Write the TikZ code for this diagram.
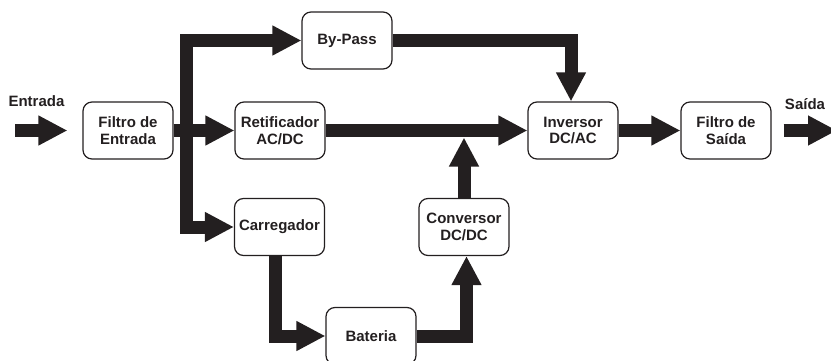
\documentclass[tikz,border=0pt]{standalone}
\usepackage{fontspec}
\setmainfont{Liberation Sans}
\usetikzlibrary{arrows.meta,calc}
\definecolor{ink}{HTML}{231F20}
\begin{document}
\begin{tikzpicture}[x=1pt,y=-1pt,
  >={Triangle[length=29pt,width=28pt]},
  blk/.style={draw=ink, line width=1.2pt, rounded corners=9pt, minimum width=90pt,
    minimum height=57pt, inner sep=0pt, align=center,
    font=\bfseries\fontsize{15}{16.5}\selectfont, text=ink},
  flow/.style={draw=ink, line width=13pt, line join=miter, line cap=butt, ->},
  lbl/.style={font=\bfseries\fontsize{15}{16}\selectfont, text=ink, inner sep=0pt}]
\useasboundingbox (0,0) rectangle (831,361);
% blocks
\node[blk] (fe) at (128,130.5) {Filtro de\\Entrada};
\node[blk] (bp) at (347,40.5) {By-Pass};
\node[blk] (rt) at (280,130.5) {Retificador\\AC/DC};
\node[blk] (cr) at (279.5,227) {Carregador};
\node[blk] (bt) at (371,336) {Bateria};
\node[blk] (cv) at (464,227) {Conversor\\DC/DC};
\node[blk] (iv) at (573,130.5) {Inversor\\DC/AC};
\node[blk] (fs) at (726,130.5) {Filtro de\\Saída};
% labels
\node[lbl] (lin) at (36.5,101) {Entrada};
\node[lbl] (lout) at (805,104) {Saída};
% free ends and bends
\coordinate (ein) at (15,130.5);
\coordinate (eout) at (837,130.5);
\coordinate (bus) at (186.5,0);
\coordinate (jn) at (464,137.5);
% connectors
\draw[flow, shorten >=15pt] (ein) -- (fe.west);
\draw[flow] (fe.east) -- (rt.west);
\draw[flow, <->] (bp.west) -- (bp.west -| bus) -- (cr.west -| bus) -- (cr.west);
\draw[flow] (rt.east) -- (iv.west);
\draw[flow] (bp.east) -| ([xshift=-2pt]iv.north);
\draw[flow] (cv.north) -- (jn);
\draw[flow] (iv.east) -- (fs.west);
\draw[flow, shorten <=12pt] (fs.east) -- (eout);
\draw[flow] ([xshift=-4pt]cr.south) |- (bt.west);
\draw[flow] (bt.east) -| ([xshift=2.5pt]cv.south);
\end{tikzpicture}
\end{document}
